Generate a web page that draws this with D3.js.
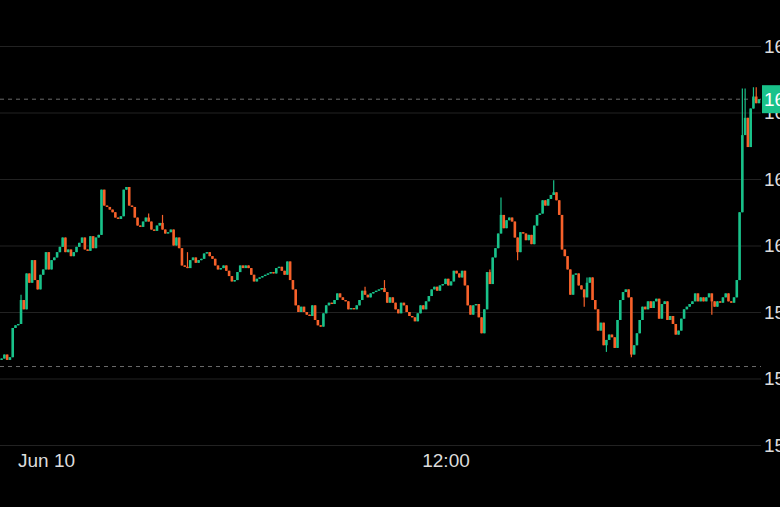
<!DOCTYPE html>
<html>
<head>
<meta charset="utf-8">
<script src="https://cdn.jsdelivr.net/npm/d3@7"></script>
<style>
  html, body { margin: 0; padding: 0; background: #000; }
  svg { display: block; }
</style>
</head>
<body>
<svg id="chart" width="780" height="507"></svg>
<script>
// ---- data (5-minute candles, Jun 9 22:40 -> Jun 10 21:25) ----
const firstOpen = 159.14;
const closes = [
  159.15,159.18,159.14,159.16,159.38,159.40,159.41,159.59,159.52,159.79,
  159.72,159.89,159.74,159.67,159.78,159.82,159.95,159.82,159.89,159.91,
  159.95,159.99,160.06,159.95,159.97,159.92,159.95,159.99,160.02,160.06,
  159.97,159.96,160.07,159.98,160.06,160.08,160.42,160.30,160.29,160.27,
  160.25,160.21,160.20,160.22,160.42,160.44,160.30,160.29,160.21,160.15,
  160.14,160.18,160.21,160.18,160.12,160.11,160.15,160.17,160.12,160.09,
  160.10,160.12,160.00,160.06,159.98,159.85,159.84,159.83,159.89,159.91,
  159.87,159.89,159.90,159.94,159.95,159.92,159.90,159.85,159.82,159.83,
  159.85,159.81,159.77,159.73,159.74,159.80,159.85,159.83,159.85,159.83,
  159.78,159.73,159.75,159.76,159.77,159.78,159.79,159.80,159.79,159.83,
  159.84,159.81,159.78,159.88,159.74,159.67,159.55,159.50,159.54,159.50,
  159.48,159.47,159.55,159.44,159.40,159.39,159.49,159.55,159.57,159.56,
  159.59,159.64,159.61,159.59,159.58,159.52,159.53,159.52,159.55,159.59,
  159.66,159.63,159.61,159.64,159.65,159.66,159.67,159.68,159.65,159.57,
  159.61,159.57,159.52,159.49,159.57,159.55,159.50,159.47,159.46,159.43,
  159.49,159.55,159.52,159.58,159.62,159.67,159.69,159.66,159.70,159.71,
  159.75,159.70,159.73,159.81,159.79,159.76,159.81,159.70,159.55,159.48,
  159.55,159.56,159.46,159.34,159.52,159.80,159.71,159.91,159.98,160.09,
  160.23,160.13,160.19,160.21,160.18,160.06,159.95,160.10,160.09,160.04,
  160.08,160.01,160.15,160.23,160.24,160.34,160.30,160.35,160.38,160.40,
  160.34,160.23,159.97,159.92,159.82,159.63,159.78,159.79,159.70,159.67,
  159.61,159.72,159.76,159.59,159.52,159.36,159.42,159.25,159.29,159.33,
  159.31,159.23,159.44,159.59,159.65,159.67,159.61,159.18,159.25,159.34,
  159.44,159.54,159.52,159.58,159.53,159.58,159.60,159.45,159.56,159.58,
  159.44,159.47,159.41,159.33,159.36,159.45,159.52,159.54,159.56,159.58,
  159.64,159.58,159.61,159.58,159.61,159.64,159.58,159.54,159.58,159.57,
  159.61,159.64,159.58,159.57,159.61,159.74,160.25,160.83,160.96,160.74,
  161.03,161.12,161.07,161.10
];
// extra wick extremes: [candle index, high, low] (null = body edge)
const wicks = [
  [7,159.63,null],[53,160.24,null],[58,160.23,null],[67,159.95,null],
  [131,159.69,null],[138,159.74,null],[176,159.82,null],[180,160.36,null],
  [186,null,159.89],[199,160.49,null],[210,null,159.54],[211,159.76,null],
  [218,null,159.20],[227,null,159.16],[256,null,159.48],
  [267,161.18,null],[268,161.18,null],[271,161.19,null],[272,161.19,null]
];
const yTicks = [158.5, 159.0, 159.5, 160.0, 160.5, 161.0, 161.5];
const xTickTimes = [new Date(2024, 5, 10, 0, 0), new Date(2024, 5, 10, 12, 0)];
const startTime = new Date(2024, 5, 9, 22, 40);
const stepMinutes = 5;
const prevClose = 159.09;

// ---- styles ----
const UP = "#19c28a", DOWN = "#f7612a";
const W = 780, H = 507;
const plotRight = 761;
const fontFam = "'Liberation Sans', Arial, Helvetica, sans-serif";

const svg = d3.select("#chart");
svg.append("rect").attr("width", W).attr("height", H).attr("fill", "#000");

// build candles
const candles = closes.map((c, i) => {
  const o = i === 0 ? firstOpen : closes[i - 1];
  return {
    t: d3.timeMinute.offset(startTime, i * stepMinutes),
    o, c, h: Math.max(o, c), l: Math.min(o, c)
  };
});
wicks.forEach(([i, h, l]) => {
  if (h != null) candles[i].h = Math.max(candles[i].h, h);
  if (l != null) candles[i].l = Math.min(candles[i].l, l);
});

const x = d3.scaleTime().domain(xTickTimes).range([46, 445.5]);
const y = d3.scaleLinear().domain([158.5, 161.5]).range([445, 46]);

// gridlines
svg.append("g").selectAll("line").data(yTicks).join("line")
  .attr("x1", 0).attr("x2", plotRight)
  .attr("y1", d => y(d) + 0.5).attr("y2", d => y(d) + 0.5)
  .attr("stroke", "#222").attr("stroke-width", 1);

// dashed reference lines
[prevClose, closes[closes.length - 1]].forEach(v => {
  svg.append("line")
    .attr("x1", 0).attr("x2", plotRight)
    .attr("y1", y(v)).attr("y2", y(v))
    .attr("stroke", "#6a6a6a").attr("stroke-width", 1)
    .attr("stroke-dasharray", "4,4");
});

// candles
const bw = 2.6;
const g = svg.append("g");
g.selectAll("line.wick").data(candles).join("line")
  .attr("class", "wick")
  .attr("x1", d => x(d.t)).attr("x2", d => x(d.t))
  .attr("y1", d => y(d.h)).attr("y2", d => y(d.l))
  .attr("stroke", d => d.c >= d.o ? UP : DOWN).attr("stroke-width", 1.2);
g.selectAll("rect.body").data(candles).join("rect")
  .attr("class", "body")
  .attr("x", d => x(d.t) - bw / 2)
  .attr("width", bw)
  .attr("y", d => y(Math.max(d.o, d.c)))
  .attr("height", d => Math.max(1.2, Math.abs(y(d.o) - y(d.c))))
  .attr("fill", d => d.c >= d.o ? UP : DOWN);

// y labels (right side, clipped by the frame)
svg.append("g").selectAll("text").data(yTicks).join("text")
  .attr("x", 764).attr("y", d => y(d))
  .attr("dy", "0.36em")
  .attr("fill", "#dcdcdc")
  .style("font-family", fontFam).style("font-size", "19px")
  .text(d => d3.format(".2f")(d));

// current price box
const last = closes[closes.length - 1];
svg.append("rect")
  .attr("x", 762).attr("y", y(last) - 14)
  .attr("width", 70).attr("height", 28)
  .attr("fill", UP);
svg.append("text")
  .attr("x", 764).attr("y", y(last)).attr("dy", "0.36em")
  .attr("fill", "#fff")
  .style("font-family", fontFam).style("font-size", "19px")
  .text(d3.format(".2f")(last));

// x axis
const fmt = d => (d.getHours() === 0 && d.getMinutes() === 0) ? d3.timeFormat("%b %-d")(d) : d3.timeFormat("%H:%M")(d);
const xa = svg.append("g").attr("transform", "translate(0,445)")
  .call(d3.axisBottom(x).tickValues(xTickTimes).tickFormat(fmt).tickSize(0).tickPadding(9));
xa.select(".domain").remove();
xa.selectAll("text")
  .attr("fill", "#dcdcdc")
  .style("font-family", fontFam).style("font-size", "19px");
</script>
</body>
</html>
